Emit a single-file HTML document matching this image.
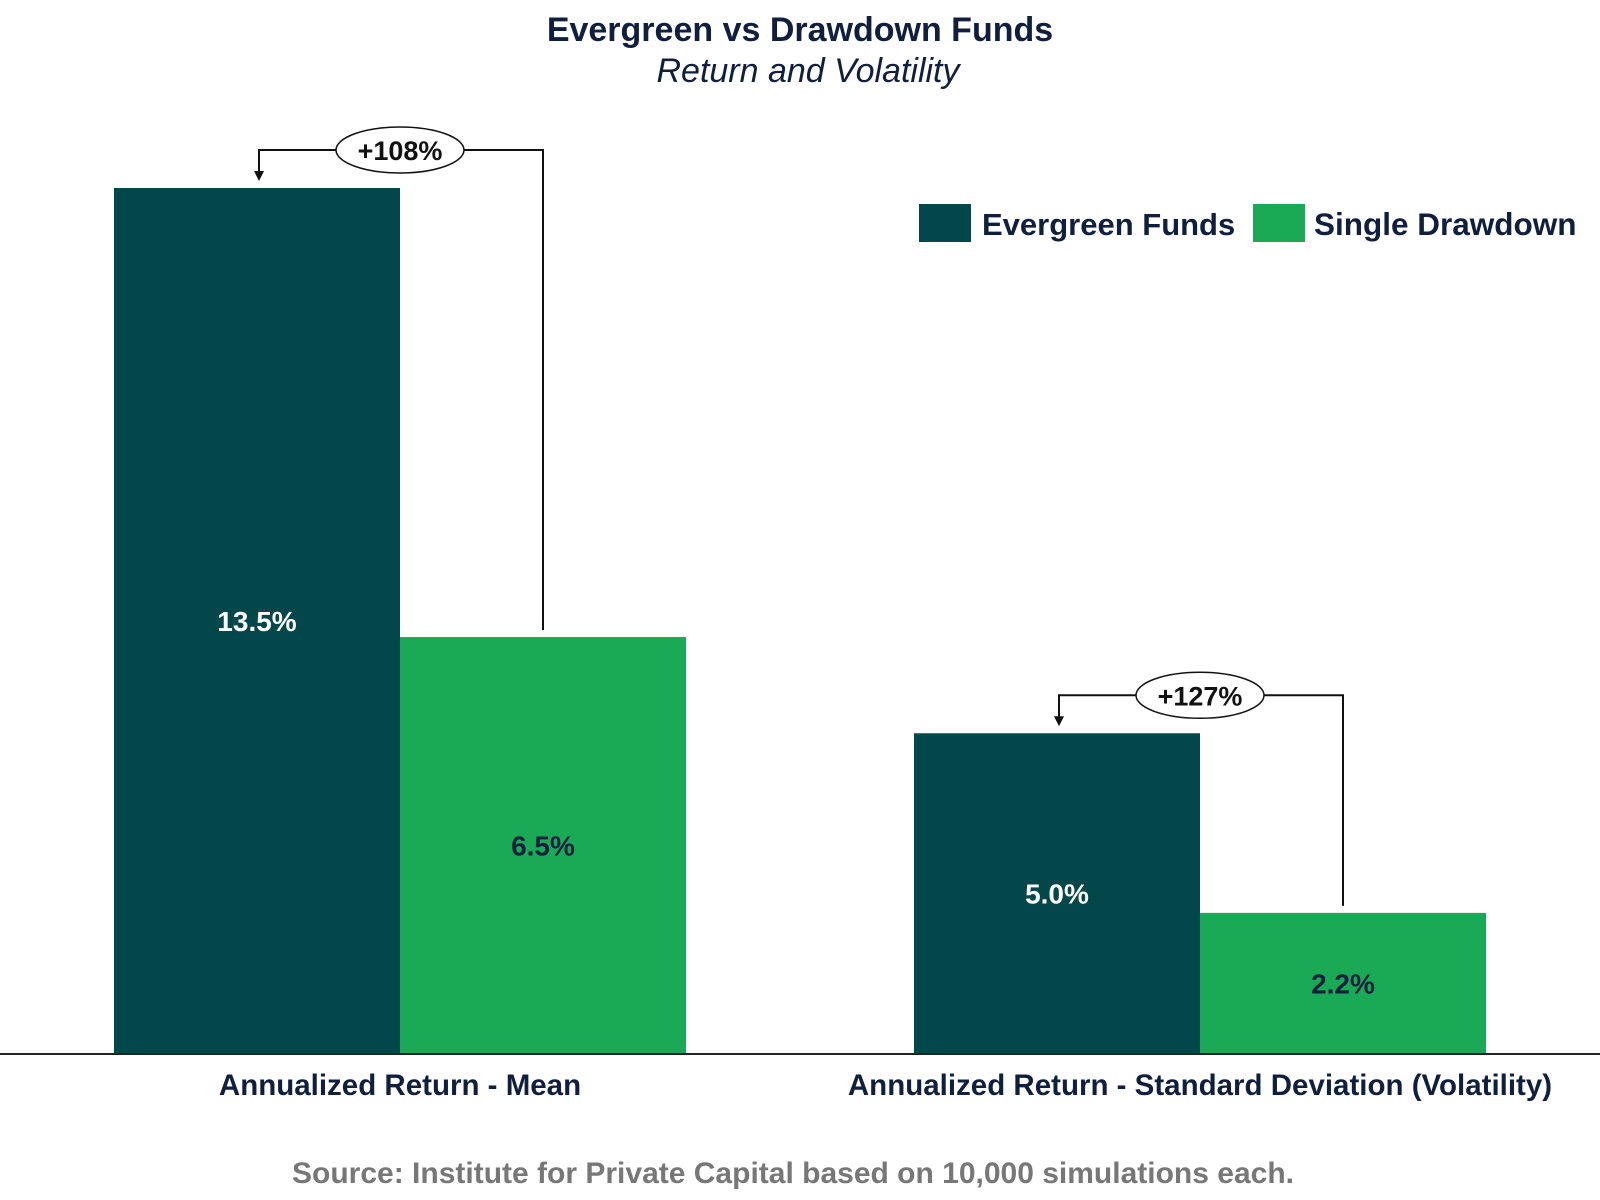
<!DOCTYPE html>
<html><head><meta charset="utf-8"><style>
html,body{margin:0;padding:0;background:#fff;width:1600px;height:1200px;overflow:hidden}
svg text{font-family:"Liberation Sans",sans-serif}
</style></head><body>
<svg id="chart" width="1600" height="1200" viewBox="0 0 1600 1200" xmlns="http://www.w3.org/2000/svg">
<text x="800" y="41" text-anchor="middle" font-size="34" font-weight="bold" fill="#0f1f3d">Evergreen vs Drawdown Funds</text>
<text x="808" y="82" text-anchor="middle" font-size="34" font-style="italic" fill="#0f1f3d">Return and Volatility</text>
<g>
<rect x="919" y="204" width="52" height="38" fill="#03474a"/>
<text x="982" y="235" font-size="31" font-weight="bold" fill="#0f1f3d">Evergreen Funds</text>
<rect x="1253" y="204" width="52" height="38" fill="#1aaa55"/>
<text x="1314" y="235" font-size="31.5" font-weight="bold" fill="#0f1f3d">Single Drawdown</text>
</g>
<g id="bars"></g>
<line x1="0" y1="1054" x2="1600" y2="1054" stroke="#222" stroke-width="2"/>
<text x="793" y="1183" text-anchor="middle" font-size="30" font-weight="bold" fill="#777">Source: Institute for Private Capital based on 10,000 simulations each.</text>
</svg>
<script>
const categories = ["Annualized Return - Mean", "Annualized Return - Standard Deviation (Volatility)"];
const evergreen = [13.5, 5.0];
const drawdown = [6.5, 2.2];
const diffLabels = ["+108%", "+127%"];

const NS = "http://www.w3.org/2000/svg";
const baseY = 1054, pxPerUnit = 866 / 13.5;
const groupCenters = [400, 1200], barW = 286;
const y = v => baseY - v * pxPerUnit;
const g = document.getElementById("bars");
function mk(tag, attrs, txt) {
  const e = document.createElementNS(NS, tag);
  for (const k in attrs) e.setAttribute(k, attrs[k]);
  if (txt !== undefined) e.textContent = txt;
  g.appendChild(e);
  return e;
}
categories.forEach((cat, i) => {
  const c = groupCenters[i];
  const x1 = c - barW, x2 = c;
  const b1 = mk("rect", {x: x1, y: y(evergreen[i]), width: barW, height: baseY - y(evergreen[i]), fill: "#03474a"});
  
  
  const b2 = mk("rect", {x: x2, y: y(drawdown[i]), width: barW, height: baseY - y(drawdown[i]), fill: "#1aaa55"});
  
  
  const l1 = mk("text", {x: x1 + barW/2, y: (y(evergreen[i]) + baseY)/2 + 10, "text-anchor": "middle", "font-size": 28, "font-weight": "bold", fill: "#fff"}, evergreen[i].toFixed(1) + "%");
  
  
  const l2 = mk("text", {x: x2 + barW/2, y: (y(drawdown[i]) + baseY)/2 + 10, "text-anchor": "middle", "font-size": 28, "font-weight": "bold", fill: "#0f1f3d"}, drawdown[i].toFixed(1) + "%");
  
  
  const cl = mk("text", {x: c, y: baseY + 41, "text-anchor": "middle", "font-size": 29.5, "font-weight": "bold", fill: "#0f1f3d"}, cat);
  
  
  const ly = y(evergreen[i]) - 38;
  const lx = x1 + barW/2 + 2, rx = x2 + barW/2;
  const p = mk("path", {d: `M${rx},${y(drawdown[i]) - 7} L${rx},${ly} L${lx},${ly} L${lx},${y(evergreen[i]) - 16}`, fill: "none", stroke: "#111", "stroke-width": 2});
  
  
  const ah = mk("path", {d: `M${lx-5},${y(evergreen[i]) - 17} L${lx+5},${y(evergreen[i]) - 17} L${lx},${y(evergreen[i]) - 7} Z`, fill: "#111"});
  
  
  const el = mk("ellipse", {cx: c, cy: ly, rx: 64, ry: 23, fill: "#fff", stroke: "#111", "stroke-width": 1.5});
  
  
  const dt = mk("text", {x: c, y: ly + 10, "text-anchor": "middle", "font-size": 27, "font-weight": "bold", fill: "#111"}, diffLabels[i]);
  
  
});
</script>
</body></html>
